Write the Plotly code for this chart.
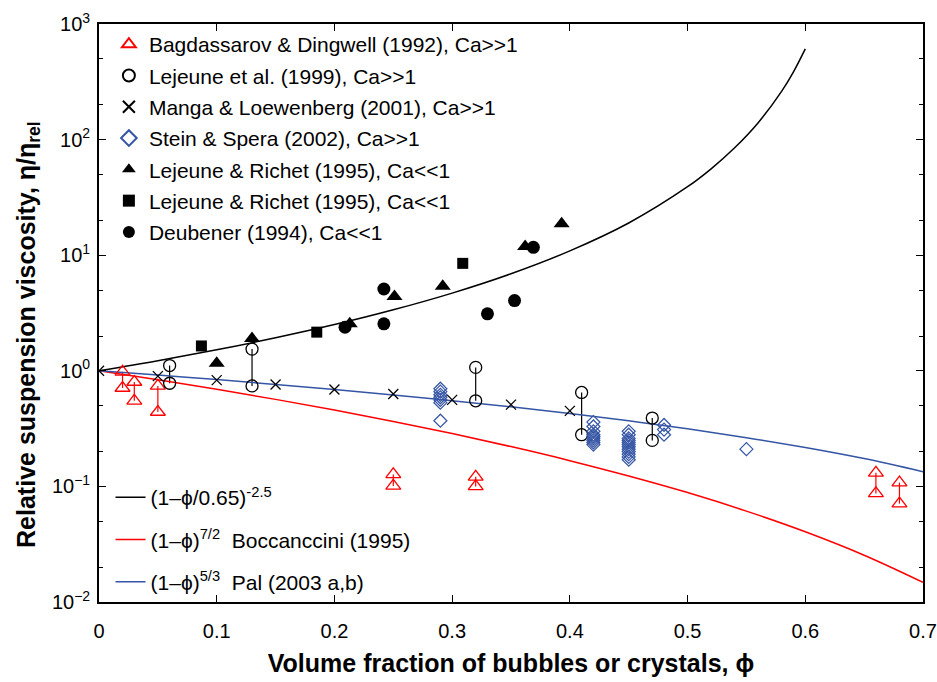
import plotly.graph_objects as go

# ---------------- data ----------------
# Bagdassarov & Dingwell (1992): pairs joined by a vertical line
bag_x = [0.02, 0.03, 0.05, 0.25, 0.32, 0.66, 0.68]
bag_hi = [0.98, 0.80, 0.74, 0.127, 0.121, 0.131, 0.108]
bag_lo = [0.71, 0.55, 0.44, 0.101, 0.100, 0.087, 0.071]

# Lejeune et al. (1999): pairs joined by a vertical line
lej_x = [0.06, 0.13, 0.32, 0.41, 0.47]
lej_hi = [1.11, 1.54, 1.07, 0.65, 0.39]
lej_lo = [0.78, 0.74, 0.55, 0.28, 0.25]

# Manga & Loewenberg (2001)
manga_x = [0.0, 0.05, 0.10, 0.15, 0.20, 0.25, 0.30, 0.35, 0.40]
manga_y = [1.0, 0.90, 0.83, 0.76, 0.69, 0.63, 0.56, 0.51, 0.45]

# Stein & Spera (2002)
stein_x = [0.29] * 7 + [0.42] * 9 + [0.45] * 12 + [0.48] * 3 + [0.55]
stein_y = [0.70, 0.66, 0.62, 0.59, 0.56, 0.53, 0.37,
           0.36, 0.33, 0.30, 0.28, 0.27, 0.26, 0.25, 0.24, 0.23,
           0.30, 0.28, 0.26, 0.25, 0.24, 0.23, 0.22, 0.21, 0.20, 0.19, 0.18, 0.17,
           0.34, 0.31, 0.28,
           0.21]

# Lejeune & Richet (1995) triangles
lrt_x = [0.10, 0.13, 0.213, 0.251, 0.292, 0.362, 0.393]
lrt_y = [1.16, 1.90, 2.55, 4.4, 5.4, 11.9, 18.7]

# Lejeune & Richet (1995) squares
lrs_x = [0.087, 0.185, 0.309]
lrs_y = [1.64, 2.16, 8.5]

# Deubener (1994)
deu_x = [0.209, 0.242, 0.242, 0.33, 0.353, 0.369]
deu_y = [2.38, 5.1, 2.55, 3.11, 4.05, 11.7]

# model curves
krieger_x = [0, 0.05, 0.1, 0.15, 0.2, 0.25, 0.3, 0.35, 0.4, 0.45, 0.5, 0.52, 0.54, 0.56, 0.58, 0.59, 0.6]
krieger_y = [1.0, 1.22, 1.52, 1.93, 2.51, 3.37, 4.70, 6.91, 10.9, 19.0, 39.1, 55.9, 84.9, 140, 263, 386, 609]

bocc_x = [0, 0.05, 0.1, 0.15, 0.2, 0.25, 0.3, 0.35, 0.4, 0.45, 0.5, 0.55, 0.6, 0.65, 0.7]
bocc_y = [1.0, 0.836, 0.692, 0.566, 0.458, 0.365, 0.287, 0.221, 0.167, 0.123, 0.0884, 0.0611, 0.0405, 0.0254, 0.0148]

pal_x = [0, 0.05, 0.1, 0.15, 0.2, 0.25, 0.3, 0.35, 0.4, 0.45, 0.5, 0.55, 0.6, 0.65, 0.7]
pal_y = [1.0, 0.918, 0.839, 0.763, 0.689, 0.619, 0.552, 0.488, 0.427, 0.369, 0.315, 0.264, 0.217, 0.174, 0.134]

x_ticks = [0, 0.1, 0.2, 0.3, 0.4, 0.5, 0.6, 0.7]
x_ticktext = ["0", "0.1", "0.2", "0.3", "0.4", "0.5", "0.6", "0.7"]
y_ticks = [0.01, 0.1, 1, 10, 100, 1000]
y_ticktext = ["10<sup>\u22122</sup>", "10<sup>\u22121</sup>", "10<sup>0</sup>",
              "10<sup>1</sup>", "10<sup>2</sup>", "10<sup>3</sup>"]

# ---------------- styling ----------------
RED = "#ff0000"
BLUE = "#3454a4"
FONT = "Liberation Sans, Arial, Helvetica, sans-serif"


def pair_lines(xs, his, los):
    lx, ly = [], []
    for x, h, l in zip(xs, his, los):
        lx += [x, x, None]
        ly += [l, h, None]
    return lx, ly


fig = go.Figure()

# connecting lines
bx, by = pair_lines(bag_x, bag_hi, bag_lo)
fig.add_trace(go.Scatter(x=bx, y=by, mode="lines", line=dict(color=RED, width=1.2),
                         showlegend=False, hoverinfo="skip"))
lx, ly = pair_lines(lej_x, lej_hi, lej_lo)
fig.add_trace(go.Scatter(x=lx, y=ly, mode="lines", line=dict(color="black", width=1.2),
                         showlegend=False, hoverinfo="skip"))

# model curves
fig.add_trace(go.Scatter(x=krieger_x, y=krieger_y, mode="lines", line=dict(color="black", width=1.5, shape="spline"),
                         name="(1\u2013\u03d5/0.65)<sup>-2.5</sup>", legend="legend2", legendgroup="l1"))
fig.add_trace(go.Scatter(x=bocc_x, y=bocc_y, mode="lines", line=dict(color=RED, width=1.5, shape="spline"),
                         name="(1\u2013\u03d5)<sup>7/2</sup>  Boccanccini (1995)", legend="legend2", legendgroup="l2"))
fig.add_trace(go.Scatter(x=pal_x, y=pal_y, mode="lines", line=dict(color=BLUE, width=1.5, shape="spline"),
                         name="(1\u2013\u03d5)<sup>5/3</sup>  Pal (2003 a,b)", legend="legend2", legendgroup="l3"))

# markers
fig.add_trace(go.Scatter(x=bag_x + bag_x, y=bag_hi + bag_lo, mode="markers",
                         marker=dict(symbol="triangle-up-open", size=13, color=RED, line=dict(width=1.3)),
                         name="Bagdassarov & Dingwell (1992), Ca>>1", legendgroup="a"))
fig.add_trace(go.Scatter(x=lej_x + lej_x, y=lej_hi + lej_lo, mode="markers",
                         marker=dict(symbol="circle-open", size=12, color="black", line=dict(width=1.3)),
                         name="Lejeune et al. (1999), Ca>>1", legendgroup="b"))
fig.add_trace(go.Scatter(x=manga_x, y=manga_y, mode="markers",
                         marker=dict(symbol="x-thin", size=10, color="black", line=dict(width=1.3, color="black")),
                         name="Manga & Loewenberg (2001), Ca>>1", legendgroup="c"))
fig.add_trace(go.Scatter(x=stein_x, y=stein_y, mode="markers",
                         marker=dict(symbol="diamond-open", size=10, color=BLUE, line=dict(width=1.2)),
                         name="Stein & Spera (2002), Ca>>1", legendgroup="d"))
fig.add_trace(go.Scatter(x=lrt_x, y=lrt_y, mode="markers",
                         marker=dict(symbol="triangle-up", size=14, color="black"),
                         name="Lejeune & Richet (1995), Ca<<1", legendgroup="e"))
fig.add_trace(go.Scatter(x=lrs_x, y=lrs_y, mode="markers",
                         marker=dict(symbol="square", size=11, color="black"),
                         name="Lejeune & Richet (1995), Ca<<1", legendgroup="f"))
fig.add_trace(go.Scatter(x=deu_x, y=deu_y, mode="markers",
                         marker=dict(symbol="circle", size=13, color="black"),
                         name="Deubener (1994), Ca<<1", legendgroup="g"))

axis_common = dict(showline=True, linecolor="black", linewidth=1.8, mirror="ticks",
                   ticks="inside", tickcolor="black", ticklen=7, tickwidth=1.2,
                   showgrid=False, zeroline=False, automargin=False,
                   tickfont=dict(family=FONT, size=20, color="black"))

fig.update_xaxes(range=[0, 0.7], tickvals=x_ticks, ticktext=x_ticktext,
                 ticklabelstandoff=10,
                 title=dict(text="<b>Volume fraction of bubbles or crystals, \u03d5</b>",
                            font=dict(family=FONT, size=25, color="black"), standoff=14),
                 **axis_common)
fig.update_yaxes(type="log", range=[-2, 3], tickvals=y_ticks, ticktext=y_ticktext,
                 ticklabelstandoff=3,
                 minor=dict(ticks="inside", ticklen=4, tickcolor="black", showgrid=False),
                 **axis_common)

fig.add_annotation(
    text="<b>Relative suspension viscosity, \u03b7/\u03b7<sub>rel</sub></b>",
    xref="paper", yref="paper", x=-0.0862, y=0.4637, textangle=-90,
    showarrow=False, font=dict(family=FONT, size=25, color="black"),
    xanchor="center", yanchor="middle")

fig.update_layout(
    width=937, height=682,
    margin=dict(l=99, r=14, t=24, b=80),
    paper_bgcolor="white", plot_bgcolor="white",
    font=dict(family=FONT, size=21, color="black"),
    legend=dict(x=0.012, y=1.0, xanchor="left", yanchor="top", bgcolor="rgba(0,0,0,0)",
                font=dict(family=FONT, size=21), tracegroupgap=1, itemsizing="constant"),
    legend2=dict(x=0.014, y=0.0, xanchor="left", yanchor="bottom", bgcolor="rgba(0,0,0,0)",
                 font=dict(family=FONT, size=21), tracegroupgap=12),
    showlegend=True,
)

fig.write_html("out.html", config={"displayModeBar": False},
               post_script="document.body.style.margin='0';document.body.style.padding='0';")
